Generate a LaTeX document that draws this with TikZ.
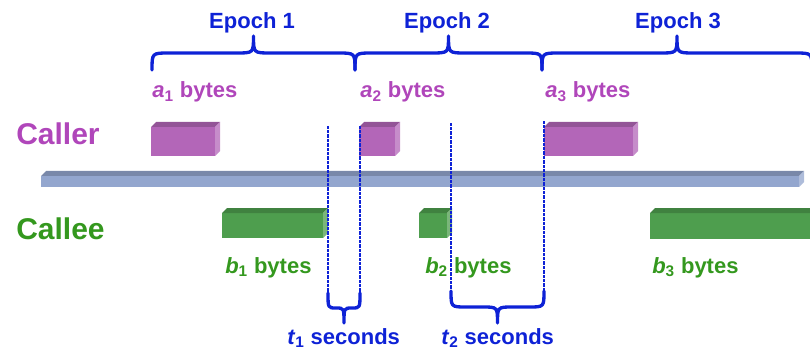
\documentclass[tikz,border=0pt]{standalone}
\usepackage{fontspec}
\setmainfont{Liberation Sans}

\definecolor{epochblue}{RGB}{14,34,214}
\definecolor{callertext}{RGB}{176,70,186}
\definecolor{calleetext}{RGB}{52,152,30}
\definecolor{callerbox}{RGB}{179,102,184}
\definecolor{calleebox}{RGB}{78,158,78}
\definecolor{wirebar}{RGB}{147,166,206}

\tikzset{
    lbl/.style={inner sep=0pt, anchor=base west, font=\fontsize{16.5}{20}\selectfont\bfseries},
    role/.style={inner sep=0pt, anchor=base west, font=\fontsize{22.5}{27}\selectfont\bfseries},
    tick/.style={draw=epochblue, line width=2.2pt, line cap=rect, dash pattern=on 0.4pt off 2.9pt},
    curlyline/.style={draw=epochblue, line width=2.5pt, line cap=round, line join=round},
}

% front face (x1,y1)-(x2,y2), colour
\newcommand\slab[5]{
    \fill[#5] (#1,#2) rectangle (#3,#4);
    \fill[#5!82!black] (#1,#2) -- (#1+5,#2-5) -- (#3+5,#2-5) -- (#3,#2) -- cycle;
    \fill[#5!75!white] (#3,#2) -- (#3+5,#2-5) -- (#3+5,#4-5) -- (#3,#4) -- cycle;
}
% left, right, ends, middle level, tip, radius
\newcommand\curly[6]{
    \draw[curlyline] (#1,#3) .. controls (#1,#4) .. (#1+#6,#4)
        -- ({(#1+#2)/2-#6},#4) .. controls ({(#1+#2)/2},#4) .. ({(#1+#2)/2},#5)
        .. controls ({(#1+#2)/2},#4) .. ({(#1+#2)/2+#6},#4)
        -- (#2-#6,#4) .. controls (#2,#4) .. (#2,#3);
}

\begin{document}
\begin{tikzpicture}[x=0.75pt, y=-0.75pt]
    \clip (0,0) rectangle (810,349);

    % epochs
    \curly{152}{355}{70}{53}{36}{17}
    \curly{355}{542}{70}{53}{36}{17}
    \curly{542}{812}{70}{53}{36}{17}
    \node[lbl, anchor=base, text=epochblue] (e1) at (252,29) {Epoch 1};
    \node[lbl, anchor=base, text=epochblue] (e2) at (447,29) {Epoch 2};
    \node[lbl, anchor=base, text=epochblue] (e3) at (678,29) {Epoch 3};

    \node[lbl, text=callertext] (a1) at (152,98) {\textit{a}\textsubscript{1} bytes};
    \node[lbl, text=callertext] (a2) at (360,98) {\textit{a}\textsubscript{2} bytes};
    \node[lbl, text=callertext] (a3) at (545,98) {\textit{a}\textsubscript{3} bytes};

    \node[role, text=callertext] (caller) at (16,145) {Caller};
    \node[role, text=calleetext] (callee) at (16,239) {Callee};

    % messages
    \slab{151}{127}{215}{156}{callerbox}
    \slab{359}{127}{395}{156}{callerbox}
    \slab{544}{127}{633}{156}{callerbox}
    \slab{41}{176}{799}{187}{wirebar}
    \slab{222}{213}{323}{238}{calleebox}
    \slab{419}{213}{447}{238}{calleebox}
    \slab{650}{213}{815}{239}{calleebox}

    \node[lbl, text=calleetext] (b1) at (225,273) {\textit{b}\textsubscript{1} bytes};
    \node[lbl, text=calleetext] (b2) at (425,273) {\textit{b}\textsubscript{2} bytes};
    \node[lbl, text=calleetext] (b3) at (652,273) {\textit{b}\textsubscript{3} bytes};

    % waiting times
    \coordinate (d1t) at (328,127); \coordinate (d1b) at (328,293);
    \coordinate (d2t) at (360,127); \coordinate (d2b) at (360,293);
    \coordinate (d3t) at (451,124); \coordinate (d3b) at (451,291);
    \coordinate (d4t) at (544,122); \coordinate (d4b) at (544,291);
    \draw[tick] (d1t) -- (d1b);
    \draw[tick] (d2t) -- (d2b);
    \draw[tick] (d3t) -- (d3b);
    \draw[tick] (d4t) -- (d4b);
    \curly{328}{360}{293}{308}{323}{8}
    \curly{451}{544}{291}{307}{323}{15}

    \node[lbl, text=epochblue] (t1) at (287,344) {\textit{t}\textsubscript{1} seconds};
    \node[lbl, text=epochblue] (t2) at (441,344) {\textit{t}\textsubscript{2} seconds};
\end{tikzpicture}
\end{document}
